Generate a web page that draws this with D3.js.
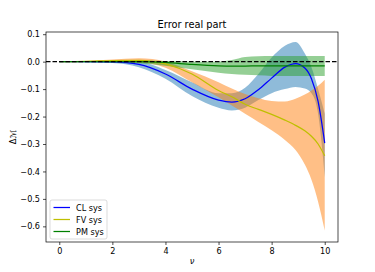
<!DOCTYPE html>
<html>
<head>
<meta charset="utf-8">
<script src="https://cdn.jsdelivr.net/npm/d3@7"></script>
<style>
  body { margin: 0; background: #fff; }
  svg text { font-family: "DejaVu Sans", sans-serif; fill: #000; }
</style>
</head>
<body>
<svg id="chart" width="375" height="272"></svg>
<script>
// Data
const nu = [0, 1, 2, 3, 4, 5, 6, 6.5, 7, 7.5, 8, 8.5, 8.9, 9.25, 9.5, 9.75, 10];

const clMid = [0, 0, -0.001, -0.01, -0.045, -0.10, -0.14, -0.147, -0.135, -0.102, -0.06, -0.02, -0.007, -0.023, -0.062, -0.145, -0.297];
const clHi  = [0.001, 0.001, 0.003, 0.0, -0.03, -0.075, -0.115, -0.115, -0.095, -0.045, 0.015, 0.058, 0.072, 0.03, -0.02, -0.1, -0.19];
const clLo  = [-0.001, -0.002, -0.005, -0.02, -0.062, -0.125, -0.168, -0.178, -0.168, -0.14, -0.115, -0.1, -0.092, -0.098, -0.115, -0.19, -0.42];

const fvMid = [0, 0.001, 0.004, 0.005, -0.008, -0.045, -0.105, -0.128, -0.155, -0.174, -0.192, -0.213, -0.232, -0.252, -0.272, -0.30, -0.343];
const fvHi  = [0, 0.002, 0.008, 0.012, 0.0, -0.035, -0.075, -0.098, -0.118, -0.133, -0.143, -0.145, -0.135, -0.12, -0.105, -0.088, -0.066];
const fvLo  = [0, -0.001, 0.0, -0.003, -0.022, -0.075, -0.13, -0.16, -0.19, -0.22, -0.25, -0.285, -0.322, -0.375, -0.43, -0.51, -0.615];

const pmMid = [0, 0, 0, 0, -0.003, -0.01, -0.015, -0.016, -0.016, -0.015, -0.015, -0.015, -0.015, -0.015, -0.015, -0.015, -0.015];
const pmHi  = [0, 0.001, 0.002, 0.004, 0.002, 0.0, 0.0, 0.006, 0.017, 0.02, 0.021, 0.021, 0.021, 0.021, 0.021, 0.021, 0.021];
const pmLo  = [0, -0.001, -0.003, -0.006, -0.015, -0.028, -0.04, -0.045, -0.048, -0.05, -0.052, -0.052, -0.052, -0.052, -0.052, -0.052, -0.052];

const xTicks = [0, 2, 4, 6, 8, 10];
const yTicks = [0.1, 0.0, -0.1, -0.2, -0.3, -0.4, -0.5, -0.6];

const series = [
  {name: "CL sys", mid: clMid, hi: clHi, lo: clLo, line: "#0000ff", band: "#1f77b4"},
  {name: "FV sys", mid: fvMid, hi: fvHi, lo: fvLo, line: "#bfbf00", band: "#ff7f0e"},
  {name: "PM sys", mid: pmMid, hi: pmHi, lo: pmLo, line: "#008000", band: "#2ca02c"}
];

// layout of the axes box
const axLeft = 46, axRight = 338, axTop = 32, axBottom = 242;

const svg = d3.select("#chart");

const x = d3.scaleLinear().domain([-0.5, 10.5]).range([axLeft, axRight]);
const y = d3.scaleLinear().domain([-0.657, 0.108]).range([axBottom, axTop]);

const plot = svg.append("g");

// bands first (under all lines)
series.forEach(s => {
  const area = d3.area()
    .x((d, i) => x(nu[i]))
    .y0((d, i) => y(s.lo[i]))
    .y1((d, i) => y(s.hi[i]))
    .curve(d3.curveMonotoneX);
  plot.append("path")
    .attr("d", area(nu))
    .attr("fill", s.band)
    .attr("fill-opacity", 0.5);
});

series.forEach(s => {
  const line = d3.line()
    .x((d, i) => x(nu[i]))
    .y((d, i) => y(s.mid[i]))
    .curve(d3.curveMonotoneX);
  plot.append("path")
    .attr("d", line(nu))
    .attr("fill", "none")
    .attr("stroke", s.line)
    .attr("stroke-width", 1.25);
});

// dashed zero line across the axes
plot.append("line")
  .attr("x1", axLeft).attr("x2", axRight)
  .attr("y1", y(0)).attr("y2", y(0))
  .attr("stroke", "#000")
  .attr("stroke-width", 1.25)
  .attr("stroke-dasharray", "4.5,2");

// frame
svg.append("rect")
  .attr("x", axLeft).attr("y", axTop)
  .attr("width", axRight - axLeft).attr("height", axBottom - axTop)
  .attr("fill", "none")
  .attr("stroke", "#000")
  .attr("stroke-width", 0.7);

// axes
const xAxis = svg.append("g")
  .attr("transform", `translate(0,${axBottom})`)
  .call(d3.axisBottom(x).tickValues(xTicks).tickSize(3).tickPadding(3).tickFormat(d3.format("d")));
const yAxis = svg.append("g")
  .attr("transform", `translate(${axLeft},0)`)
  .call(d3.axisLeft(y).tickValues(yTicks).tickSize(3).tickPadding(3).tickFormat(d3.format(".1f")));

[xAxis, yAxis].forEach(g => {
  g.select(".domain").remove();
  g.selectAll(".tick line").attr("stroke", "#000").attr("stroke-width", 0.7);
  g.selectAll(".tick text").attr("font-size", 8.1).attr("font-family", "DejaVu Sans").attr("fill", "#000");
});

// title and labels
svg.append("text")
  .attr("x", (axLeft + axRight) / 2).attr("y", 28)
  .attr("text-anchor", "middle")
  .attr("font-size", 9.8)
  .text("Error real part");

svg.append("text")
  .attr("x", (axLeft + axRight) / 2).attr("y", 264)
  .attr("text-anchor", "middle")
  .attr("font-size", 8.3)
  .attr("font-style", "italic")
  .text("ν");

svg.append("text")
  .attr("transform", `translate(16,${(axTop + axBottom) / 2}) rotate(-90)`)
  .attr("text-anchor", "middle")
  .attr("font-size", 8.3)
  .text("Δℳ");

// legend
const lg = svg.append("g").attr("transform", "translate(50,200)");
lg.append("rect")
  .attr("width", 57).attr("height", 39)
  .attr("rx", 2)
  .attr("fill", "#fff").attr("fill-opacity", 0.8)
  .attr("stroke", "#cccccc").attr("stroke-width", 0.7);
series.forEach((s, i) => {
  const yy = 7.5 + i * 12;
  lg.append("line")
    .attr("x1", 3.5).attr("x2", 20)
    .attr("y1", yy).attr("y2", yy)
    .attr("stroke", s.line).attr("stroke-width", 1.25);
  lg.append("text")
    .attr("x", 26).attr("y", yy + 3)
    .attr("font-size", 8.1)
    .text(s.name);
});
</script>
</body>
</html>
